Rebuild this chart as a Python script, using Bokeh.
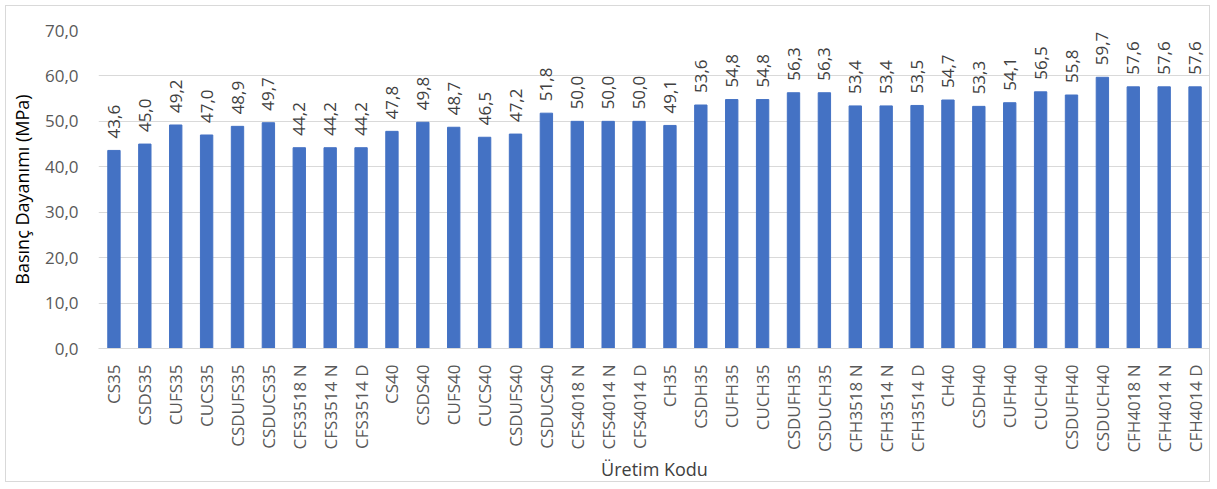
import math
from bokeh.plotting import figure
from bokeh.models import ColumnDataSource, FactorRange, Range1d, FixedTicker
from bokeh.core.properties import value
from bokeh.embed import file_html
from bokeh.resources import INLINE

categories = ["CS35", "CSDS35", "CUFS35", "CUCS35", "CSDUFS35", "CSDUCS35",
              "CFS3518 N", "CFS3514 N", "CFS3514 D", "CS40", "CSDS40", "CUFS40",
              "CUCS40", "CSDUFS40", "CSDUCS40", "CFS4018 N", "CFS4014 N", "CFS4014 D",
              "CH35", "CSDH35", "CUFH35", "CUCH35", "CSDUFH35", "CSDUCH35",
              "CFH3518 N", "CFH3514 N", "CFH3514 D", "CH40", "CSDH40", "CUFH40",
              "CUCH40", "CSDUFH40", "CSDUCH40", "CFH4018 N", "CFH4014 N", "CFH4014 D"]
values = [43.6, 45.0, 49.2, 47.0, 48.9, 49.7, 44.2, 44.2, 44.2, 47.8, 49.8, 48.7,
          46.5, 47.2, 51.8, 50.0, 50.0, 50.0, 49.1, 53.6, 54.8, 54.8, 56.3, 56.3,
          53.4, 53.4, 53.5, 54.7, 53.3, 54.1, 56.5, 55.8, 59.7, 57.6, 57.6, 57.6]
y_ticks = [0, 10, 20, 30, 40, 50, 60, 70]

def fmt(v):
    return f"{v:.1f}".replace(".", ",")

source = ColumnDataSource(dict(cat=categories, val=values, lab=[fmt(v) for v in values]))

FONT = "Open Sans"

p = figure(width=1205, height=477, x_range=FactorRange(*categories, range_padding=0),
           y_range=Range1d(0, 70), output_backend="svg", toolbar_location=None,
           min_border_left=90, min_border_right=1, min_border_top=24, min_border_bottom=134,
           margin=(5, 5, 5, 5))
p.styles = {"border": "1px solid #d9d9d9"}
p.outline_line_color = None
p.background_fill_color = "white"
p.border_fill_color = "white"

p.vbar(x="cat", top="val", width=0.4, source=source, color="#4472C4")
p.text(x="cat", y="val", text="lab", source=source, angle=math.pi / 2,
       text_align="left", text_baseline="middle", y_offset=-12,
       text_font=value(FONT), text_font_size="17px", text_color="#404040")

p.yaxis.ticker = FixedTicker(ticks=y_ticks)
p.yaxis.major_label_overrides = {t: fmt(t) for t in y_ticks}
p.yaxis.axis_line_color = None
p.yaxis.major_tick_line_color = None
p.yaxis.minor_tick_line_color = None
p.yaxis.major_label_standoff = 14
p.yaxis.major_label_text_font = FONT
p.yaxis.major_label_text_font_size = "17px"
p.yaxis.major_label_text_color = "#595959"
p.yaxis.axis_label = "Basınç Dayanımı (MPa)"
p.yaxis.axis_label_text_font = FONT
p.yaxis.axis_label_text_font_size = "18px"
p.yaxis.axis_label_text_font_style = "normal"
p.yaxis.axis_label_text_color = "#000000"
p.yaxis.axis_label_standoff = 8

p.xaxis.axis_line_color = "#d9d9d9"
p.xaxis.axis_line_width = 1
p.xaxis.major_tick_line_color = None
p.xaxis.minor_tick_line_color = None
p.xaxis.major_label_orientation = math.pi / 2
p.xaxis.major_label_standoff = 10
p.xaxis.major_label_text_font = FONT
p.xaxis.major_label_text_font_size = "17px"
p.xaxis.major_label_text_color = "#595959"
p.xaxis.axis_label = "Üretim Kodu"
p.xaxis.axis_label_text_font = FONT
p.xaxis.axis_label_text_font_size = "18px"
p.xaxis.axis_label_text_font_style = "normal"
p.xaxis.axis_label_text_color = "#404040"
p.xaxis.axis_label_standoff = 1

p.xgrid.grid_line_color = None
p.ygrid.grid_line_color = "#d9d9d9"
p.ygrid.grid_line_width = 1

open("out.html", "w").write(file_html(p, INLINE))
